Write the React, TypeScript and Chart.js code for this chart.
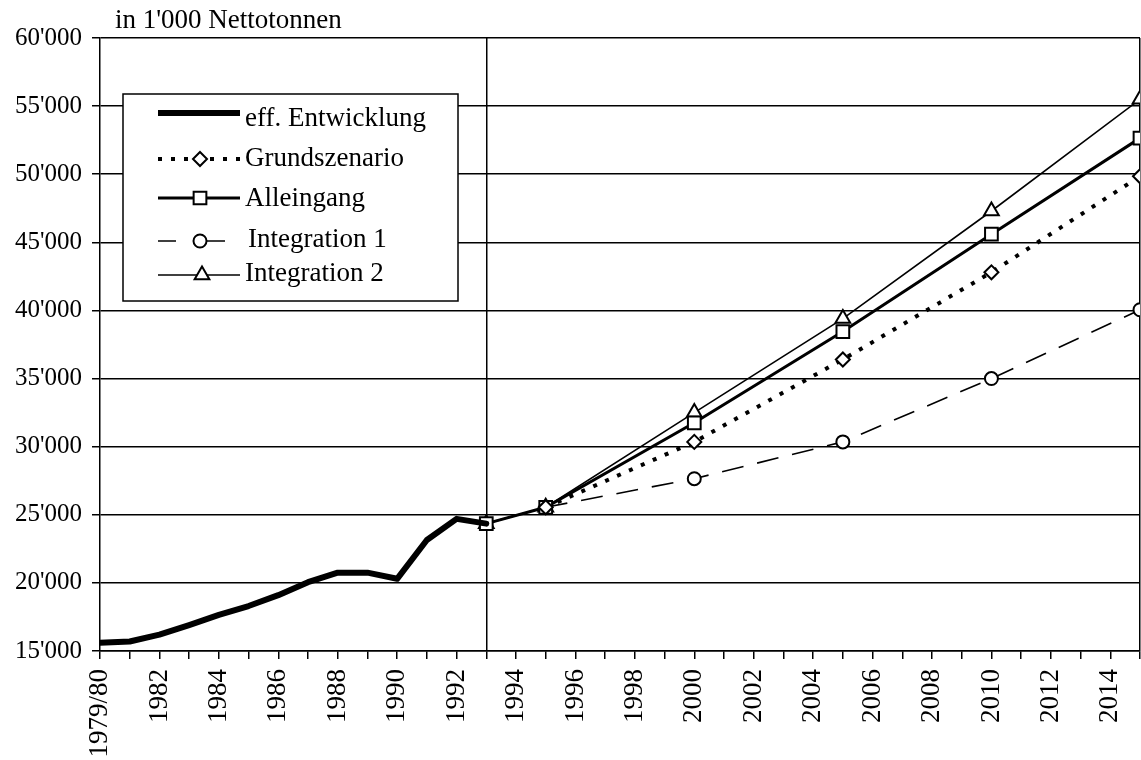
import React, { useEffect, useRef } from 'react';
import { Chart, registerables } from 'chart.js';

Chart.register(...registerables);

// ---- data ----
const actualYears = [1980, 1981, 1982, 1983, 1984, 1985, 1986, 1987, 1988, 1989, 1990, 1991, 1992, 1993];
const actualValues = [15600, 15700, 16200, 16900, 17650, 18300, 19100, 20050, 20750, 20750, 20300, 23150, 24700, 24350];

const alleingangYears = [1993, 1995, 2000, 2005, 2010, 2015];
const alleingangValues = [24350, 25550, 31750, 38450, 45600, 52650];

const integration2Years = [1993, 1995, 2000, 2005, 2010, 2015];
const integration2Values = [24350, 25550, 32500, 39400, 47300, 55500];

const grundYears = [1995, 2000, 2005, 2010, 2015];
const grundValues = [25550, 30350, 36400, 42800, 49850];

const integration1Years = [1995, 2000, 2005, 2010, 2015];
const integration1Values = [25550, 27650, 30350, 35000, 40050];

const seriesLabels = ['eff. Entwicklung', 'Grundszenario', 'Alleingang', 'Integration 1', 'Integration 2'];
const unitTitle = "in 1'000 Nettotonnen";

const xMin = 1980;
const xMax = 2015;
const yMin = 15000;
const yMax = 60000;
const yStep = 5000;
const dividerYear = 1993;

const FONT = '"Liberation Serif", "Times New Roman", serif';

const toPoints = (xs: number[], ys: number[]) => xs.map((x, i) => ({ x, y: ys[i] }));

const formatThousands = (v: number) => {
  const k = Math.floor(v / 1000);
  const r = String(Math.round(v % 1000)).padStart(3, '0');
  return `${k}'${r}`;
};

const xLabel = (v: number) => {
  if (v === 1980) return '1979/80';
  if (v % 2 === 0 && v < 2015) return String(v);
  return '';
};

function drawMarker(ctx: CanvasRenderingContext2D, style: string, x: number, y: number, r: number) {
  ctx.beginPath();
  if (style === 'circle') {
    ctx.arc(x, y, r, 0, Math.PI * 2);
  } else if (style === 'rect') {
    const s = Math.SQRT1_2 * r;
    ctx.rect(x - s, y - s, 2 * s, 2 * s);
  } else if (style === 'rectRot') {
    ctx.moveTo(x, y - r);
    ctx.lineTo(x + r, y);
    ctx.lineTo(x, y + r);
    ctx.lineTo(x - r, y);
    ctx.closePath();
  } else if (style === 'triangle') {
    ctx.moveTo(x, y - r);
    ctx.lineTo(x + 0.866 * r, y + r / 2);
    ctx.lineTo(x - 0.866 * r, y + r / 2);
    ctx.closePath();
  }
  ctx.fillStyle = '#ffffff';
  ctx.fill();
  ctx.stroke();
}

const legendPlugin = {
  id: 'customLegend',
  afterDraw(chart: any) {
    const ctx: CanvasRenderingContext2D = chart.ctx;
    ctx.save();
    // title
    ctx.fillStyle = '#000';
    ctx.font = `27px ${FONT}`;
    ctx.textBaseline = 'alphabetic';
    ctx.textAlign = 'left';
    ctx.fillText(unitTitle, 115, 28);

    // legend box
    const bx = 123, by = 94, bw = 335, bh = 207;
    ctx.fillStyle = '#fff';
    ctx.fillRect(bx, by, bw, bh);
    ctx.strokeStyle = '#000';
    ctx.lineWidth = 1.5;
    ctx.setLineDash([]);
    ctx.strokeRect(bx, by, bw, bh);

    const rows = [118, 158, 198, 239, 273];
    const lineY = [113, 159, 198, 241, 275];
    chart.data.datasets.forEach((ds: any, i: number) => {
      const y = lineY[i];
      const x1 = 158, x2 = 240, xm = 200;
      ctx.strokeStyle = '#000';
      ctx.lineWidth = ds.borderWidth;
      ctx.lineCap = 'butt';
      ctx.setLineDash(ds.borderDash || []);
      ctx.beginPath();
      if (i === 3) {
        ctx.setLineDash([]);
        ctx.moveTo(158, y); ctx.lineTo(176, y);
        ctx.moveTo(206, y); ctx.lineTo(225, y);
      } else {
        ctx.moveTo(x1, y);
        ctx.lineTo(x2, y);
      }
      ctx.stroke();
      ctx.setLineDash([]);
      if (ds.pointRadius > 0) {
        ctx.lineWidth = ds.pointBorderWidth;
        drawMarker(ctx, ds.pointStyle, xm + (i === 4 ? 2 : 0), y, ds.pointRadius);
      }
      ctx.fillStyle = '#000';
      ctx.font = `27px ${FONT}`;
      ctx.textBaseline = 'middle';
      ctx.fillText(ds.label, i === 3 ? 248 : 245, rows[i] + 1);
    });
    ctx.restore();
  },
};

export default function App() {
  const canvasRef = useRef<HTMLCanvasElement | null>(null);

  useEffect(() => {
    if (!canvasRef.current) return;
    const chart = new Chart(canvasRef.current, {
      type: 'line',
      data: {
        datasets: [
          {
            label: seriesLabels[0],
            data: toPoints(actualYears, actualValues),
            borderColor: '#000',
            borderWidth: 6,
            pointRadius: 0,
            pointStyle: 'circle',
            borderJoinStyle: 'round',
            borderCapStyle: 'round',
            tension: 0,
          },
          {
            label: seriesLabels[1],
            data: toPoints(grundYears, grundValues),
            borderColor: '#000',
            borderWidth: 4,
            borderDash: [4, 9],
            pointStyle: 'rectRot',
            pointRadius: 7,
            pointBorderWidth: 2,
            pointBackgroundColor: '#fff',
            pointBorderColor: '#000',
            tension: 0,
          },
          {
            label: seriesLabels[2],
            data: toPoints(alleingangYears, alleingangValues),
            borderColor: '#000',
            borderWidth: 3,
            pointStyle: 'rect',
            pointRadius: 9,
            pointBorderWidth: 2,
            pointBackgroundColor: '#fff',
            pointBorderColor: '#000',
            tension: 0,
          },
          {
            label: seriesLabels[3],
            data: toPoints(integration1Years, integration1Values),
            borderColor: '#000',
            borderWidth: 1.6,
            borderDash: [22, 14],
            pointStyle: 'circle',
            pointRadius: 6.5,
            pointBorderWidth: 2,
            pointBackgroundColor: '#fff',
            pointBorderColor: '#000',
            tension: 0,
          },
          {
            label: seriesLabels[4],
            data: toPoints(integration2Years, integration2Values),
            borderColor: '#000',
            borderWidth: 1.6,
            pointStyle: 'triangle',
            pointRadius: 8.5,
            pointBorderWidth: 2,
            pointBackgroundColor: '#fff',
            pointBorderColor: '#000',
            tension: 0,
          },
        ],
      },
      options: {
        animation: false,
        responsive: true,
        maintainAspectRatio: false,
        layout: { padding: { top: 38, left: 0, right: 1, bottom: 0 } },
        plugins: {
          legend: { display: false },
          tooltip: { enabled: false },
          title: { display: false },
        },
        scales: {
          x: {
            type: 'linear',
            min: xMin,
            max: xMax,
            afterFit: (scale: any) => {
              scale.height = 109;
              scale.paddingLeft = 0;
              scale.paddingRight = 0;
            },
            ticks: {
              stepSize: 1,
              autoSkip: false,
              maxRotation: 90,
              minRotation: 90,
              padding: 10,
              color: '#000',
              font: { family: FONT, size: 27 },
              callback: (v: any) => xLabel(Number(v)),
            },
            grid: {
              drawOnChartArea: true,
              drawTicks: true,
              tickLength: 8,
              tickColor: '#000',
              tickWidth: 1.5,
              lineWidth: 1.5,
              color: (c: any) =>
                c.tick && (c.tick.value === dividerYear || c.tick.value === xMax) ? '#000' : 'rgba(0,0,0,0)',
            },
            border: { display: true, color: '#000', width: 1.5 },
          },
          y: {
            type: 'linear',
            min: yMin,
            max: yMax,
            afterFit: (scale: any) => {
              scale.width = 100;
              scale.paddingTop = 0;
              scale.paddingBottom = 0;
            },
            ticks: {
              stepSize: yStep,
              padding: 10,
              color: '#000',
              font: { family: FONT, size: 25 },
              callback: (v: any) => formatThousands(Number(v)),
            },
            grid: {
              color: '#000',
              lineWidth: 1.5,
              drawTicks: true,
              tickLength: 8,
              tickColor: '#000',
            },
            border: { display: true, color: '#000', width: 1.5 },
          },
        },
      },
      plugins: [legendPlugin],
    } as any);
    return () => chart.destroy();
  }, []);

  return (
    <div style={{ position: 'fixed', left: 0, top: 0, width: 1141, height: 760, background: '#fff', overflow: 'hidden' }}>
      <div style={{ position: 'absolute', left: 0, top: 0, width: 1151, height: 760 }}>
        <canvas ref={canvasRef} />
      </div>
    </div>
  );
}
